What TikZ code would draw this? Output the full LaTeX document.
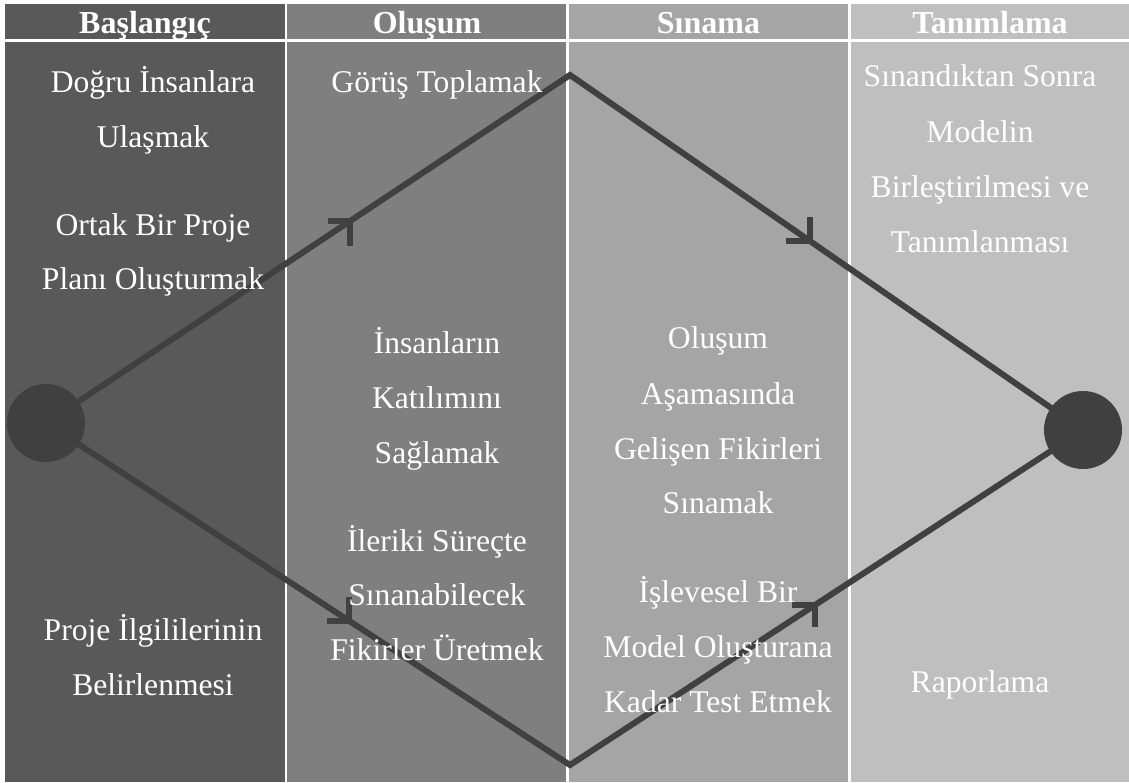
\documentclass[tikz,border=0pt]{standalone}
\usepackage{fontspec}
\setmainfont{Liberation Serif}
\definecolor{colA}{HTML}{595959}
\definecolor{colB}{HTML}{7F7F7F}
\definecolor{colC}{HTML}{A5A5A5}
\definecolor{colD}{HTML}{BFBFBF}
\definecolor{ink}{HTML}{404040}
\begin{document}
\begin{tikzpicture}[x=1pt,y=-1pt,
  head/.style={text=white,font=\fontsize{32}{32}\selectfont\bfseries,anchor=base,inner sep=0pt},
  lbl/.style={text=white,font=\fontsize{31.6}{32}\selectfont,anchor=base,inner sep=0pt},
  conn/.style={draw=ink,line width=6pt,line join=miter},
  barb/.style={draw=ink,line width=6pt},
  dot/.style={circle,fill=ink,minimum size=78pt,inner sep=0pt}]
\useasboundingbox (0,0) rectangle (1129,782);
\fill[white] (0,0) rectangle (1129,782);
% column backgrounds: header row and body
\fill[colA] (5,4) rectangle (284.5,39.3);
\fill[colB] (287.3,4) rectangle (566,39.3);
\fill[colC] (568.8,4) rectangle (848.1,39.3);
\fill[colD] (851,4) rectangle (1129,39.3);
\fill[colA] (5,42) rectangle (284.5,782);
\fill[colB] (287.3,42) rectangle (566,782);
\fill[colC] (568.8,42) rectangle (848.1,782);
\fill[colD] (851,42) rectangle (1129,782);
% start and end points of the process
\node[dot] (L) at (46,423) {};
\node[dot] (R) at (1083,430) {};
\coordinate (top) at (570,75);
\coordinate (bot) at (570,765);
% the two paths through the phases
\draw[conn] (L.center) -- (top) -- (R.center);
\draw[conn] (L.center) -- (bot) -- (R.center);
\path (L.center) -- (top) coordinate[pos=0.580] (m1);
\path (top) -- (R.center) coordinate[pos=0.468] (m2);
\path (L.center) -- (bot) coordinate[pos=0.578] (m3);
\path (bot) -- (R.center) coordinate[pos=0.478] (m4);
% direction marks
\draw[barb] ([xshift=-22pt]m1) -- (m1) -- ([yshift=-25pt]m1);
\draw[barb] ([xshift=-24pt]m2) -- (m2) -- ([yshift=24pt]m2);
\draw[barb] ([xshift=-22pt]m3) -- (m3) -- ([yshift=24pt]m3);
\draw[barb] ([xshift=-23pt]m4) -- (m4) -- ([yshift=-22pt]m4);
% headers
\node[head] (h1) at (145,33) {Başlangıç};
\node[head] (h2) at (427,33) {Oluşum};
\node[head] (h3) at (708.5,33) {Sınama};
\node[head] (h4) at (990,33) {Tanımlama};
% column 1
\node[lbl] (a1) at (153,92) {Doğru İnsanlara};
\node[lbl] (a2) at (153,147) {Ulaşmak};
\node[lbl] (a3) at (153,235) {Ortak Bir Proje};
\node[lbl] (a4) at (153,289) {Planı Oluşturmak};
\node[lbl] (a5) at (153,640) {Proje İlgililerinin};
\node[lbl] (a6) at (153,695) {Belirlenmesi};
% column 2
\node[lbl] (b1) at (437,92) {Görüş Toplamak};
\node[lbl] (b2) at (437,353) {İnsanların};
\node[lbl] (b3) at (437,408) {Katılımını};
\node[lbl] (b4) at (437,463) {Sağlamak};
\node[lbl] (b5) at (437,551) {İleriki Süreçte};
\node[lbl] (b6) at (437,605) {Sınanabilecek};
\node[lbl] (b7) at (437,660) {Fikirler Üretmek};
% column 3
\node[lbl] (c1) at (718,348) {Oluşum};
\node[lbl] (c2) at (718,404) {Aşamasında};
\node[lbl] (c3) at (718,459) {Gelişen Fikirleri};
\node[lbl] (c4) at (718,513) {Sınamak};
\node[lbl] (c5) at (718,602) {İşlevesel Bir};
\node[lbl] (c6) at (718,657) {Model Oluşturana};
\node[lbl] (c7) at (718,712) {Kadar Test Etmek};
% column 4
\node[lbl] (d1) at (980,86) {Sınandıktan Sonra};
\node[lbl] (d2) at (980,142) {Modelin};
\node[lbl] (d3) at (980,197) {Birleştirilmesi ve};
\node[lbl] (d4) at (980,252) {Tanımlanması};
\node[lbl] (d5) at (980,692) {Raporlama};
\end{tikzpicture}
\end{document}
